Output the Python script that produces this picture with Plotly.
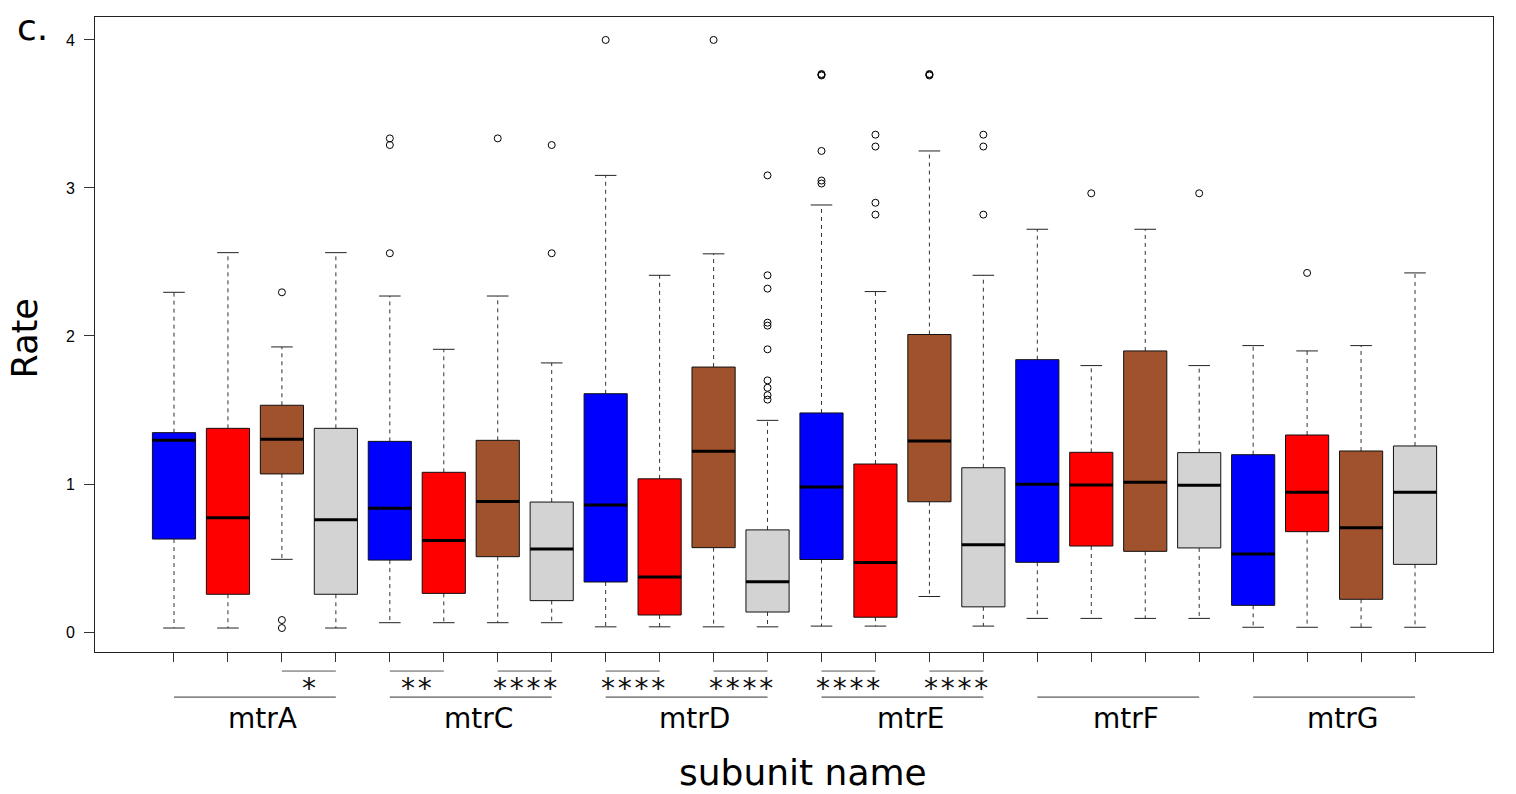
import plotly.graph_objects as go

# ---------------- data ----------------
groups = ["mtrA", "mtrC", "mtrD", "mtrE", "mtrF", "mtrG"]
box_colors = ["#0000FF", "#FF0000", "#A0522D", "#D3D3D3"]  # 4 conditions per subunit

lower_whisker = [0.027, 0.027, 0.491, 0.027,
                 0.063, 0.063, 0.063, 0.063,
                 0.035, 0.035, 0.035, 0.035,
                 0.040, 0.040, 0.240, 0.040,
                 0.092, 0.092, 0.092, 0.092,
                 0.032, 0.032, 0.032, 0.032]
q1 = [0.628, 0.255, 1.068, 0.255,
      0.486, 0.261, 0.509, 0.212,
      0.338, 0.115, 0.570, 0.135,
      0.490, 0.100, 0.880, 0.170,
      0.471, 0.581, 0.545, 0.568,
      0.180, 0.678, 0.221, 0.457]
median = [1.295, 0.772, 1.302, 0.759,
          0.836, 0.619, 0.881, 0.561,
          0.858, 0.372, 1.222, 0.340,
          0.980, 0.470, 1.290, 0.590,
          0.998, 0.993, 1.011, 0.991,
          0.527, 0.944, 0.705, 0.944]
q3 = [1.347, 1.376, 1.532, 1.376,
      1.288, 1.079, 1.295, 0.878,
      1.610, 1.035, 1.790, 0.690,
      1.480, 1.135, 2.010, 1.110,
      1.840, 1.214, 1.899, 1.212,
      1.198, 1.331, 1.223, 1.257]
upper_whisker = [2.295, 2.563, 1.926, 2.563,
                 2.270, 1.910, 2.270, 1.818,
                 3.085, 2.410, 2.555, 1.430,
                 2.885, 2.300, 3.250, 2.410,
                 2.721, 1.800, 2.721, 1.800,
                 1.935, 1.899, 1.935, 2.426]
outliers = [[], [], [2.295, 0.081, 0.027], [],
            [3.335, 3.290, 2.559], [], [3.335], [3.290, 2.559],
            [4.000], [], [4.000], [3.085, 2.410, 2.320, 2.090, 2.070, 1.910, 1.700, 1.650, 1.600, 1.570],
            [3.760, 3.765, 3.770, 3.250, 3.050, 3.030], [3.360, 3.280, 2.900, 2.820], [3.760, 3.765, 3.770], [3.360, 3.280, 2.820],
            [], [2.964], [], [2.964],
            [], [2.426], [], []]

# significance brackets: (first box index (1-based), second box index, label)
sig_pairs = [(3, 4, "*"),
             (5, 6, "**"), (7, 8, "****"),
             (9, 10, "****"), (11, 12, "****"),
             (13, 14, "****"), (15, 16, "****")]

y_ticks = [0, 1, 2, 3, 4]

# ---------------- build ----------------
n = len(median)
positions = list(range(1, n + 1))
half_box = 0.4
half_cap = 0.2
FONT = "DejaVu Sans"

fig = go.Figure()

# whiskers (dashed)
wx, wy = [], []
for i, x in enumerate(positions):
    wx += [x, x, None, x, x, None]
    wy += [q3[i], upper_whisker[i], None, q1[i], lower_whisker[i], None]
fig.add_trace(go.Scatter(x=wx, y=wy, mode="lines", hoverinfo="skip",
                         line=dict(color="#333333", width=1, dash="4px,4px"),
                         showlegend=False))
# caps
cx, cy = [], []
for i, x in enumerate(positions):
    cx += [x - half_cap, x + half_cap, None, x - half_cap, x + half_cap, None]
    cy += [upper_whisker[i], upper_whisker[i], None, lower_whisker[i], lower_whisker[i], None]
fig.add_trace(go.Scatter(x=cx, y=cy, mode="lines", hoverinfo="skip",
                         line=dict(color="#222222", width=1), showlegend=False))

# boxes, one trace per colour
for c_idx, col in enumerate(box_colors):
    bx, by = [], []
    for i, x in enumerate(positions):
        if i % 4 != c_idx:
            continue
        bx += [x - half_box, x + half_box, x + half_box, x - half_box, x - half_box, None]
        by += [q1[i], q1[i], q3[i], q3[i], q1[i], None]
    fig.add_trace(go.Scatter(x=bx, y=by, mode="lines", fill="toself",
                             fillcolor=col, line=dict(color="#111111", width=1),
                             hoverinfo="skip", showlegend=False))

# medians
mx, my = [], []
for i, x in enumerate(positions):
    mx += [x - half_box, x + half_box, None]
    my += [median[i], median[i], None]
fig.add_trace(go.Scatter(x=mx, y=my, mode="lines", hoverinfo="skip",
                         line=dict(color="black", width=3), showlegend=False))

# outliers
ox, oy = [], []
for i, x in enumerate(positions):
    for v in outliers[i]:
        ox.append(x)
        oy.append(v)
fig.add_trace(go.Scatter(x=ox, y=oy, mode="markers", showlegend=False,
                         marker=dict(symbol="circle-open", size=7,
                                     color="black", line=dict(width=1))))

# ---------------- annotations below axis ----------------
shapes = []
annotations = []
SIG_Y = -0.030
GROUP_Y = -0.071
for a, b, lab in sig_pairs:
    shapes.append(dict(type="line", xref="x", yref="paper",
                       x0=positions[a - 1], x1=positions[b - 1], y0=SIG_Y, y1=SIG_Y,
                       line=dict(color="#555555", width=1)))
    annotations.append(dict(xref="x", yref="paper",
                            x=(positions[a - 1] + positions[b - 1]) / 2, y=-0.058,
                            text="\u200a".join(lab), showarrow=False,
                            xanchor="center", yanchor="middle",
                            font=dict(family=FONT, size=28, color="#111111")))
for g, name in enumerate(groups):
    x0 = positions[g * 4]
    x1 = positions[g * 4 + 3]
    shapes.append(dict(type="line", xref="x", yref="paper",
                       x0=x0, x1=x1, y0=GROUP_Y, y1=GROUP_Y,
                       line=dict(color="#333333", width=1)))
    annotations.append(dict(xref="x", yref="paper", x=(x0 + x1) / 2, y=-0.104,
                            xshift=8, text=name, showarrow=False,
                            xanchor="center", yanchor="middle",
                            font=dict(family=FONT, size=28, color="black")))

annotations.append(dict(xref="paper", yref="paper", x=0.5, y=-0.190, xshift=9,
                        text="subunit name", showarrow=False, xanchor="center",
                        yanchor="middle", font=dict(family=FONT, size=36, color="black")))
annotations.append(dict(xref="paper", yref="paper", x=-0.050, y=0.494,
                        text="Rate", showarrow=False, textangle=-90, xanchor="center",
                        yanchor="middle", font=dict(family=FONT, size=35, color="black")))
annotations.append(dict(xref="paper", yref="paper", x=-0.057, y=0.984,
                        text="c.", showarrow=False, xanchor="left",
                        yanchor="middle", font=dict(family=FONT, size=36, color="black")))

fig.update_layout(
    width=1516, height=794,
    margin=dict(l=95, r=23, t=17, b=142),
    plot_bgcolor="white", paper_bgcolor="white",
    shapes=shapes, annotations=annotations,
    xaxis=dict(range=[-0.464, 25.445], tickvals=positions,
               ticktext=["" for _ in positions], ticks="outside", ticklen=9,
               tickcolor="#333333", showgrid=False, zeroline=False,
               showline=True, mirror=True, linecolor="#222222", linewidth=1,
               fixedrange=True),
    yaxis=dict(range=[-0.135, 4.155], tickvals=y_ticks,
               ticktext=[str(v) for v in y_ticks], ticks="outside", ticklen=10,
               tickcolor="#333333", showgrid=False, zeroline=False,
               showline=True, mirror=True, linecolor="#222222", linewidth=1,
               tickfont=dict(family="Liberation Sans", size=16, color="black"),
               ticklabelstandoff=6, fixedrange=True),
)

fig.write_html("out.html", config={"displayModeBar": False},
               post_script="document.body.style.margin='0';document.body.style.overflow='hidden';")
